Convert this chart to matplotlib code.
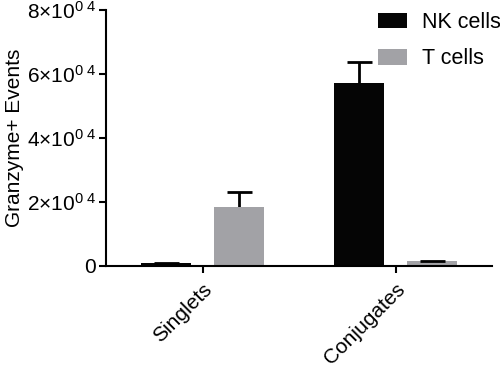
import matplotlib
matplotlib.use("Agg")
import matplotlib.pyplot as plt
import numpy as np

plt.rcParams['font.family'] = ['Liberation Sans', 'DejaVu Sans']
plt.rcParams['mathtext.fontset'] = 'custom'
plt.rcParams['mathtext.rm'] = 'Liberation Sans'
plt.rcParams['mathtext.it'] = 'Liberation Sans'

categories = ["Singlets", "Conjugates"]
series = ["NK cells", "T cells"]
nk_vals = [800, 57200]
nk_err = [150, 6600]
t_vals = [18400, 1500]
t_err = [4700, 200]
colors = ["#050505", "#a2a2a6"]
yticks = [0, 20000, 40000, 60000, 80000]
ytick_labels = ["0", r"$2{\times}10^{0\ 4}$", r"$4{\times}10^{0\ 4}$",
                r"$6{\times}10^{0\ 4}$", r"$8{\times}10^{0\ 4}$"]

fig = plt.figure(figsize=(5.0, 3.73), dpi=100)
ax = fig.add_axes([0.212, 0.287, 0.772, 0.686])

x = np.arange(len(categories))
w = 0.26
off = 0.19
for vals, errs, col, lab, sgn in [(nk_vals, nk_err, colors[0], series[0], -1),
                                   (t_vals, t_err, colors[1], series[1], 1)]:
    pos = x + sgn * off
    ax.bar(pos, vals, width=w, color=col, label=lab, zorder=2)
    ax.errorbar(pos, vals, yerr=[np.zeros(len(errs)), errs], fmt='none',
                ecolor='black', elinewidth=2, capsize=0, zorder=1)
    ax.plot(pos, np.array(vals) + np.array(errs), linestyle='none', marker='_',
            markersize=18, markeredgewidth=2, color='black', zorder=3)

ax.set_xlim(-0.5, 1.5)
ax.set_ylim(0, 80000)
ax.set_yticks(yticks)
ax.set_yticklabels(ytick_labels, fontsize=15)
ax.set_xticks(x)
ax.set_xticklabels(categories, fontsize=15, rotation=45, ha='right', rotation_mode='anchor')
ax.set_ylabel("Granzyme+ Events", fontsize=15, labelpad=2)

for s in ['top', 'right']:
    ax.spines[s].set_visible(False)
for s in ['left', 'bottom']:
    ax.spines[s].set_linewidth(1.5)
ax.tick_params(axis='both', width=1.5, length=5, direction='out')
ax.tick_params(axis='y', pad=2)
ax.tick_params(axis='x', pad=5)

leg = fig.legend(*ax.get_legend_handles_labels(), loc='upper left',
                 bbox_to_anchor=(378 / 500, 1 - 12 / 373), frameon=False, fontsize=15.5,
                 borderpad=0, borderaxespad=0,
                 handlelength=1.35, handleheight=0.72, handletextpad=0.7, labelspacing=0.72)

fig.savefig("out.png", dpi=100)
